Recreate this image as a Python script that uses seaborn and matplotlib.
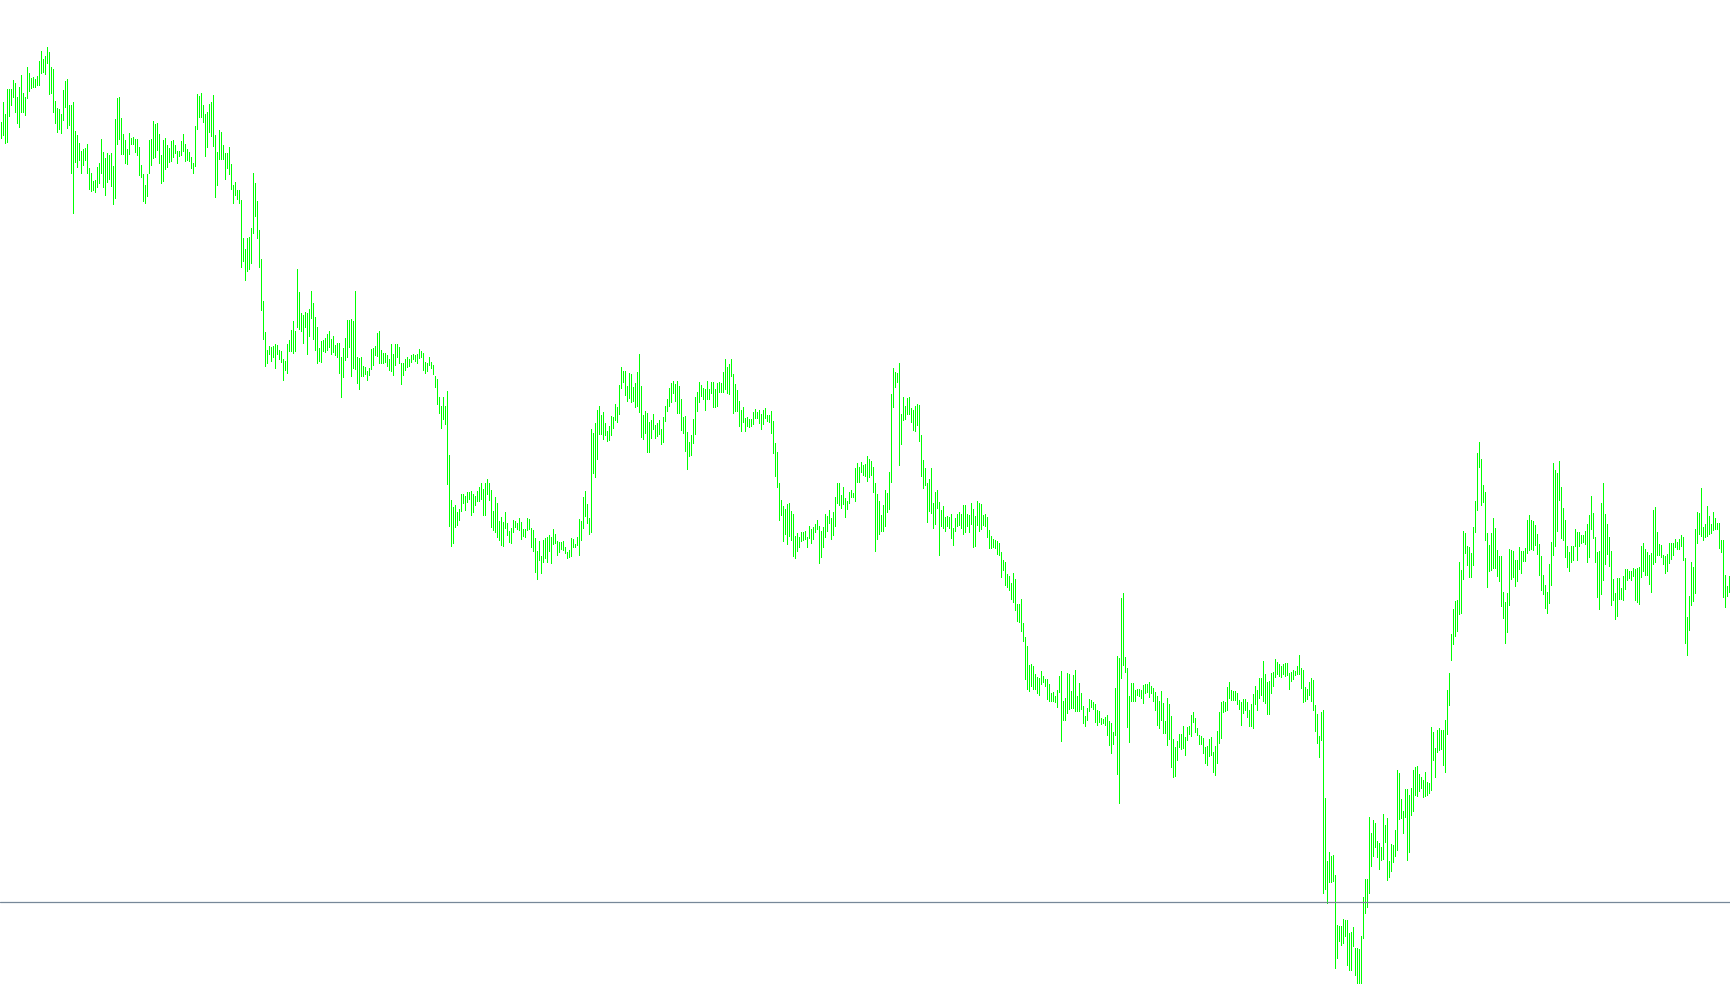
import seaborn as sns
import matplotlib.pyplot as plt
import pandas as pd

# bar highs / lows in price points left to right
high = [
    883, 903, 891, 916, 916, 916, 925, 922, 908, 918, 930, 912, 908, 938, 932, 927, 928, 926, 929, 944,
    954, 946, 949, 958, 953, 938, 936, 904, 897, 896, 891, 915, 924, 926, 900, 900, 903, 874, 870, 862,
    854, 856, 857, 861, 837, 832, 824, 825, 838, 842, 866, 853, 847, 852, 850, 852, 839, 886, 907, 908,
    887, 871, 865, 856, 872, 867, 868, 866, 866, 858, 840, 831,
    820, 831, 865, 866, 884, 881, 882, 871, 850, 865, 867, 860, 857, 864, 865, 860, 854, 854, 864, 871,
    861, 856, 853, 848, 842, 879, 911, 909, 912, 900, 891, 893, 901, 903, 910, 870, 853, 875, 873, 860,
    852, 852, 858, 841, 820, 823, 815, 815, 805, 767, 756, 767, 768, 777, 832, 822, 804, 775, 746, 704,
    673, 655, 659, 658, 659, 661, 660, 655, 654, 646, 644, 661, 665,
    675, 684, 674, 736, 713, 692, 690, 693, 692, 696, 714, 702, 688, 678, 657, 664, 665, 667, 671, 674,
    666, 669, 660, 662, 662, 648, 657, 667, 685, 685, 686, 684, 714, 648, 647, 648, 639, 638, 634, 637,
    656, 657, 659, 672, 674, 655, 652, 652, 650, 646, 661, 651, 661, 661, 658, 642, 642, 646, 648, 646,
    650, 651, 650, 651, 656, 654, 652, 643, 642, 648, 643, 640,
    629, 626, 608, 599, 608, 599, 614, 550, 505, 498, 500, 493, 496, 511, 511, 509, 513, 513, 514, 511,
    509, 514, 518, 522, 516, 522, 526, 522, 515, 494, 508, 502, 484, 488, 483, 493, 482, 474, 477, 485,
    484, 482, 487, 483, 476, 476, 487, 486, 477, 475, 467, 454, 464, 449, 465, 467, 468, 470, 468, 476,
    471, 464, 463, 463, 464, 458, 453, 455, 467, 466, 461, 468, 486,
    484, 508, 514, 501, 487, 576, 572, 582, 595, 599, 590, 593, 582, 574, 579, 589, 588, 601, 598, 620,
    638, 634, 634, 619, 632, 631, 618, 622, 633, 651, 619, 590, 594, 592, 583, 585, 591, 580, 582, 585,
    576, 588, 599, 606, 617, 622, 624, 621, 624, 619, 606, 588, 589, 573, 563, 570, 586, 608, 613, 623,
    620, 617, 616, 624, 616, 623, 623, 616, 622, 623, 622, 633,
    646, 638, 641, 646, 631, 621, 615, 604, 595, 598, 587, 588, 586, 586, 593, 596, 593, 595, 591, 595,
    597, 590, 590, 594, 584, 562, 553, 522, 505, 499, 496, 501, 502, 494, 491, 469, 472, 468, 473, 473,
    474, 468, 479, 476, 478, 481, 485, 479, 474, 478, 491, 489, 495, 487, 493, 508, 522, 522, 510, 518,
    507, 504, 513, 515, 512, 537, 542, 538, 543, 540, 541, 549, 546,
    544, 538, 522, 511, 504, 490, 500, 515, 512, 533, 611, 637, 633, 632, 642, 591, 608, 599, 607, 608,
    597, 595, 599, 601, 600, 570, 545, 537, 522, 526, 537, 502, 513, 515, 503, 495, 499, 488, 489, 488,
    491, 477, 487, 491, 493, 491, 500, 500, 491, 490, 502, 496, 489, 504, 502, 501, 490, 491, 488, 475,
    469, 466, 465, 464, 462, 453, 445, 443, 431, 429, 422, 432,
    426, 401, 401, 406, 382, 368, 359, 340, 341, 339, 331, 328, 327, 334, 329, 326, 326, 321, 312, 313,
    309, 315, 329, 334, 304, 307, 332, 331, 314, 330, 335, 309, 322, 312, 299, 289, 297, 306, 305, 303,
    301, 295, 294, 287, 286, 288, 290, 284, 282, 273, 317, 349, 347, 407, 412, 348, 337, 309, 322, 322,
    315, 316, 316, 315, 320, 321, 321, 323, 319, 317, 313, 309, 304,
    314, 302, 284, 307, 301, 289, 266, 258, 264, 271, 271, 279, 268, 278, 279, 290, 293, 287, 277, 270,
    269, 267, 258, 259, 266, 268, 253, 259, 274, 293, 303, 304, 303, 318, 323, 315, 314, 314, 312, 305,
    303, 306, 306, 303, 295, 301, 311, 319, 315, 327, 327, 344, 331, 323, 324, 332, 333, 346, 343, 341,
    339, 341, 342, 342, 332, 333, 335, 334, 339, 350, 337, 335,
    318, 316, 323, 327, 325, 300, 291, 269, 293, 295, 207, 144, 153, 149, 150, 130, 80, 79, 79, 86,
    85, 85, 72, 73, 78, 57, 57, 56, 69, 108, 126, 126, 188, 172, 185, 182, 164, 162, 158, 191,
    180, 187, 144, 161, 160, 175, 235, 232, 206, 194, 216, 216, 210, 217, 235, 238, 239, 231, 228, 225,
    233, 223, 222, 278, 273, 257, 275, 277, 275, 275, 285, 315, 332,
    371, 396, 404, 405, 443, 435, 474, 472, 459, 458, 452, 478, 504, 552, 563, 546, 520, 513, 472, 460,
    472, 487, 477, 455, 449, 449, 413, 403, 412, 456, 455, 454, 445, 445, 458, 454, 454, 457, 485, 490,
    485, 484, 480, 471, 461, 449, 430, 420, 413, 441, 463, 542, 535, 532, 544, 518, 497, 485, 459, 453,
    459, 459, 476, 473, 473, 470, 470, 474, 481, 490, 509, 492,
    468, 453, 454, 502, 522, 491, 481, 468, 454, 426, 412, 427, 427, 417, 429, 436, 436, 434, 434, 437,
    436, 437, 438, 459, 462, 456, 453, 450, 452, 495, 498, 473, 461, 460, 450, 449, 451, 462, 462, 462,
    466, 463, 466, 470, 468, 447, 388, 409, 443, 438, 476, 493, 492, 517, 478, 481, 499, 489, 481, 493,
    487, 482, 482, 465, 465, 430, 419, 429,
]

low = [
    867, 870, 862, 863, 889, 900, 908, 893, 882, 878, 893, 893, 890, 907, 914, 917, 918, 918, 920, 920,
    932, 933, 931, 942, 911, 912, 893, 882, 873, 876, 872, 885, 898, 877, 880, 832, 792, 843, 838, 845,
    832, 840, 845, 832, 816, 814, 815, 813, 818, 822, 832, 818, 810, 823, 826, 819, 801, 807, 861, 866,
    851, 851, 842, 841, 851, 861, 861, 853, 850, 830, 828, 804,
    802, 809, 832, 840, 847, 848, 855, 842, 822, 824, 836, 838, 843, 844, 848, 852, 842, 849, 850, 854,
    844, 845, 844, 837, 832, 839, 876, 888, 888, 883, 849, 858, 873, 869, 859, 808, 820, 846, 846, 846,
    826, 837, 831, 816, 802, 810, 806, 802, 738, 744, 725, 734, 736, 742, 772, 789, 767, 738, 695, 666,
    639, 642, 651, 644, 648, 637, 651, 646, 643, 625, 635, 632, 654,
    654, 652, 654, 678, 676, 674, 662, 678, 651, 669, 687, 666, 655, 642, 644, 643, 654, 653, 655, 658,
    651, 653, 650, 648, 632, 608, 628, 645, 648, 658, 629, 637, 636, 622, 616, 629, 629, 631, 625, 630,
    636, 640, 650, 649, 642, 642, 642, 643, 639, 635, 634, 630, 640, 648, 642, 621, 630, 635, 638, 639,
    643, 646, 644, 642, 647, 648, 635, 632, 634, 640, 637, 631,
    618, 601, 592, 577, 586, 581, 521, 479, 459, 462, 478, 480, 485, 494, 502, 495, 503, 506, 490, 493,
    500, 504, 504, 506, 490, 490, 511, 505, 478, 475, 473, 468, 465, 460, 459, 477, 470, 463, 462, 473,
    478, 476, 475, 466, 469, 468, 475, 476, 458, 454, 433, 426, 445, 432, 443, 447, 443, 454, 442, 461,
    462, 450, 453, 456, 455, 452, 447, 448, 449, 458, 458, 460, 450,
    465, 477, 489, 482, 471, 473, 532, 528, 546, 571, 571, 566, 570, 564, 565, 570, 577, 585, 583, 591,
    617, 623, 610, 604, 607, 603, 604, 598, 599, 593, 568, 566, 572, 553, 553, 567, 576, 567, 569, 571,
    561, 563, 584, 594, 599, 603, 612, 604, 592, 592, 575, 572, 554, 536, 549, 550, 562, 571, 594, 603,
    609, 606, 595, 606, 606, 612, 598, 598, 599, 613, 613, 613,
    616, 612, 611, 629, 592, 594, 594, 579, 574, 583, 574, 579, 578, 579, 581, 587, 587, 582, 576, 581,
    587, 584, 583, 572, 552, 529, 518, 485, 490, 464, 471, 461, 469, 465, 449, 447, 454, 458, 464, 465,
    466, 458, 467, 462, 466, 473, 476, 442, 448, 458, 468, 474, 482, 466, 470, 479, 502, 500, 497, 501,
    488, 496, 502, 508, 508, 504, 523, 523, 533, 530, 529, 524, 528,
    530, 513, 454, 466, 471, 474, 474, 479, 493, 496, 523, 598, 618, 623, 540, 561, 585, 586, 591, 591,
    583, 575, 574, 580, 564, 529, 517, 520, 483, 494, 492, 477, 481, 497, 450, 479, 477, 474, 479, 477,
    467, 460, 474, 479, 480, 477, 471, 473, 479, 473, 481, 458, 459, 480, 474, 476, 480, 479, 468, 457,
    457, 458, 457, 451, 450, 428, 435, 420, 418, 415, 406, 403,
    395, 384, 383, 374, 364, 326, 316, 314, 319, 316, 316, 312, 310, 321, 323, 319, 306, 304, 304, 304,
    303, 298, 313, 264, 285, 285, 292, 296, 297, 297, 294, 294, 294, 296, 282, 279, 285, 294, 298, 296,
    283, 280, 283, 281, 282, 280, 270, 260, 252, 261, 270, 231, 202, 327, 340, 333, 278, 263, 304, 304,
    304, 310, 309, 307, 302, 312, 313, 308, 312, 304, 295, 280, 277,
    285, 272, 272, 260, 266, 238, 228, 229, 245, 258, 256, 257, 250, 265, 271, 269, 283, 273, 270, 261,
    261, 252, 242, 240, 249, 250, 233, 230, 242, 262, 267, 293, 294, 295, 307, 305, 305, 305, 301, 296,
    280, 292, 295, 288, 279, 279, 277, 301, 295, 307, 310, 304, 302, 291, 291, 312, 319, 328, 331, 329,
    328, 331, 329, 330, 316, 324, 326, 330, 331, 331, 317, 303,
    304, 306, 310, 304, 295, 274, 262, 248, 265, 112, 116, 102, 123, 123, 124, 37, 47, 64, 60, 62,
    69, 40, 35, 35, 59, 30, 22, 22, 22, 67, 92, 98, 112, 139, 149, 158, 148, 136, 145, 146,
    163, 125, 128, 134, 143, 149, 155, 186, 187, 172, 188, 145, 153, 190, 194, 210, 209, 214, 217, 208,
    209, 210, 212, 215, 245, 228, 253, 255, 256, 240, 233, 271, 300,
    345, 361, 369, 374, 391, 392, 426, 452, 440, 428, 428, 440, 473, 495, 538, 500, 503, 465, 418, 434,
    435, 437, 437, 429, 424, 399, 387, 362, 373, 400, 426, 428, 419, 424, 436, 432, 444, 444, 452, 455,
    456, 455, 460, 451, 430, 415, 411, 397, 392, 402, 420, 450, 459, 474, 505, 467, 465, 448, 438, 434,
    443, 445, 459, 445, 459, 462, 463, 461, 443, 448, 476, 467,
    443, 408, 396, 411, 425, 441, 451, 439, 400, 405, 386, 389, 406, 406, 405, 416, 425, 427, 425, 429,
    405, 403, 401, 428, 434, 430, 430, 421, 413, 441, 443, 450, 450, 448, 441, 432, 434, 442, 446, 450,
    458, 456, 456, 459, 445, 362, 350, 375, 400, 404, 412, 462, 471, 469, 465, 468, 469, 471, 472, 475,
    476, 476, 457, 453, 408, 398, 409, 413,
]

level = 103  # horizontal price level line

n = len(high)
bars = pd.DataFrame({
    "bar": list(range(n)) * 2,
    "price": low + high,
})

sns.set_style("white")

fig = plt.figure(figsize=(17.3, 10.05), dpi=100)
ax = fig.add_axes([0, 0, 1, 1])

# each bar is drawn as its own vertical segment (one unit per bar)
sns.lineplot(data=bars, x="bar", y="price", units="bar", estimator=None,
             color="#00ff00", linewidth=0.72, antialiased=False,
             legend=False, ax=ax)

ax.axhline(level, color="#778899", linewidth=0.9)

ax.set_xlim(-0.65, n - 0.65)
ax.set_ylim(0, 1005)
ax.set_axis_off()

fig.savefig("out.png", dpi=100)
